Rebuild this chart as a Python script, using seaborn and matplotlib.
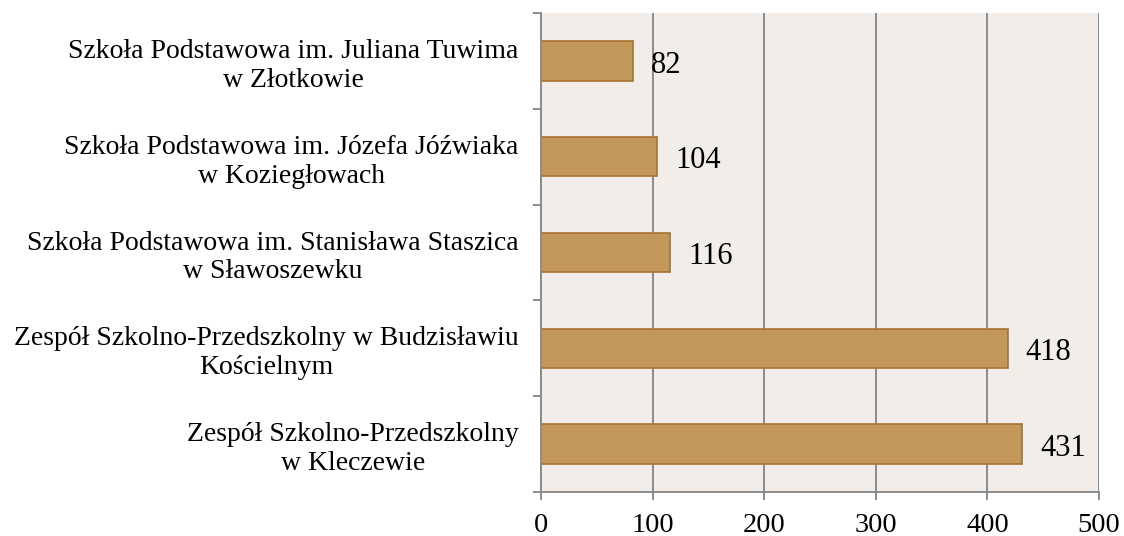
import matplotlib
matplotlib.use("Agg")
import matplotlib.pyplot as plt
import seaborn as sns
import pandas as pd
from matplotlib.ticker import FixedLocator

# Dane do wykresu
szkoly = [
    "Szkoła Podstawowa im. Juliana Tuwima\nw Złotkowie",
    "Szkoła Podstawowa im. Józefa Jóźwiaka\nw Koziegłowach",
    "Szkoła Podstawowa im. Stanisława Staszica\nw Sławoszewku",
    "Zespół Szkolno-Przedszkolny w Budzisławiu\nKościelnym",
    "Zespół Szkolno-Przedszkolny\nw Kleczewie",
]
liczba_uczniow = [82, 104, 116, 418, 431]
x_ticks = [0, 100, 200, 300, 400, 500]

df = pd.DataFrame({"szkola": szkoly, "liczba": liczba_uczniow})

sns.set_style("white")
plt.rcParams["font.family"] = ["Liberation Serif", "DejaVu Serif"]
plt.rcParams["text.color"] = "black"
plt.rcParams["xtick.color"] = "black"
plt.rcParams["ytick.color"] = "black"

fig = plt.figure(figsize=(11.24, 5.36), dpi=100)
ax = fig.add_axes([0.4813, 0.0821, 0.9778 - 0.4813, 0.9757 - 0.0821])
ax.set_facecolor("#f2ede9")

sns.barplot(data=df, x="liczba", y="szkola", orient="h", color="#c1975a",
            saturation=1, width=0.41, edgecolor="#a8722c", linewidth=1.2, ax=ax)

# etykiety wartości przy słupkach (lekko obniżone, jak w oryginale)
for cont in ax.containers:
    etykiety = ax.bar_label(cont, padding=13, fontsize=22, color="black")
    for t in etykiety:
        t.xyann = (13, -3)

ax.set_xlim(0, 500)
ax.set_ylim(4.5, -0.5)
ax.set_xticks(x_ticks)
ax.set_xticklabels([str(v) for v in x_ticks], fontsize=20.5)
ax.xaxis.grid(True, color="#8c8c8c", linewidth=1.4)
ax.set_axisbelow(True)

for lab in ax.get_yticklabels():
    lab.set_multialignment("center")
    lab.set_fontsize(20)
ax.tick_params(axis="y", which="major", length=0, pad=16, labelcolor="black")
ax.yaxis.set_minor_locator(FixedLocator([-0.5, 0.5, 1.5, 2.5, 3.5, 4.5]))
ax.tick_params(axis="y", which="minor", length=6, width=1.4, color="#8c8c8c", left=True)
ax.tick_params(axis="x", length=6, width=1.4, color="#8c8c8c", bottom=True, pad=9,
               labelcolor="black")

for s in ["top", "right"]:
    ax.spines[s].set_visible(False)
for s in ["left", "bottom"]:
    ax.spines[s].set_color("#8c8c8c")
    ax.spines[s].set_linewidth(1.4)

ax.set_xlabel("")
ax.set_ylabel("")

fig.savefig("out.png", dpi=100)
